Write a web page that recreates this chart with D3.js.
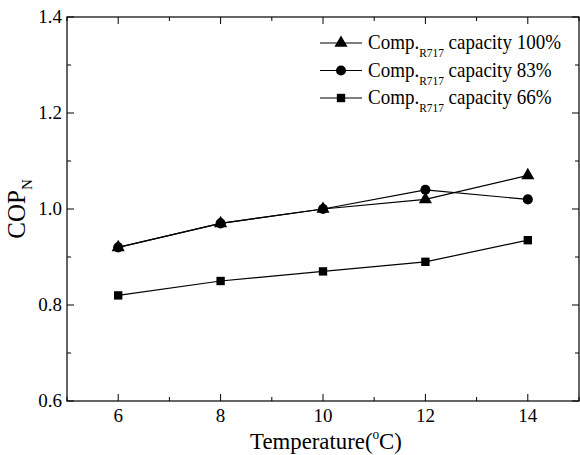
<!DOCTYPE html>
<html>
<head>
<meta charset="utf-8">
<script src="https://cdn.jsdelivr.net/npm/d3@7"></script>
<style>
  body { margin: 0; background: #fff; }
  svg text { font-family: "Liberation Serif", "Tinos", "Times New Roman", "DejaVu Serif", serif; }
</style>
</head>
<body>
<div id="chart"></div>
<script>
// COP_N vs evaporator temperature for three compressor capacities
const temps = [6, 8, 10, 12, 14];
const cap100 = [0.92, 0.97, 1.00, 1.02, 1.07];
const cap83 = [0.92, 0.97, 1.00, 1.04, 1.02];
const cap66 = [0.82, 0.85, 0.87, 0.89, 0.935];
const seriesNames = ["100%", "83%", "66%"];
const xTicks = [6, 8, 10, 12, 14];
const yTicks = [0.6, 0.8, 1.0, 1.2, 1.4];

const width = 580, height = 455;
const margin = { top: 17, right: 1, bottom: 54, left: 67 };

const svg = d3.select("#chart").append("svg")
  .attr("width", width).attr("height", height);

const x = d3.scaleLinear().domain([5, 15]).range([margin.left, width - margin.right]);
const y = d3.scaleLinear().domain([0.6, 1.4]).range([height - margin.bottom, margin.top]);

const x0 = x.range()[0], x1 = x.range()[1];
const y0 = y.range()[0], y1 = y.range()[1];

// frame
svg.append("rect")
  .attr("x", x0).attr("y", y1)
  .attr("width", x1 - x0).attr("height", y0 - y1)
  .attr("fill", "none").attr("stroke", "#000").attr("stroke-width", 1.2);

// ticks: major + minor, inward on all four sides
const xMinor = d3.range(5, 15.01, 1).filter(v => !xTicks.includes(v));
const yMinor = d3.range(0.7, 1.4, 0.2);
const major = 7, minor = 4;

function xTickLines(vals, len) {
  vals.forEach(v => {
    svg.append("line").attr("x1", x(v)).attr("x2", x(v)).attr("y1", y0).attr("y2", y0 - len)
      .attr("stroke", "#000");
    svg.append("line").attr("x1", x(v)).attr("x2", x(v)).attr("y1", y1).attr("y2", y1 + len)
      .attr("stroke", "#000");
  });
}
function yTickLines(vals, len) {
  vals.forEach(v => {
    svg.append("line").attr("x1", x0).attr("x2", x0 + len).attr("y1", y(v)).attr("y2", y(v))
      .attr("stroke", "#000");
    svg.append("line").attr("x1", x1).attr("x2", x1 - len).attr("y1", y(v)).attr("y2", y(v))
      .attr("stroke", "#000");
  });
}
xTickLines(xTicks, major);
xTickLines(xMinor, minor);
yTickLines(yTicks, major);
yTickLines(yMinor, minor);

// tick labels
svg.selectAll(".xl").data(xTicks).join("text")
  .attr("x", d => x(d)).attr("y", y0 + 21)
  .attr("text-anchor", "middle").attr("font-size", 19)
  .text(d => d);
svg.selectAll(".yl").data(yTicks).join("text")
  .attr("x", x0 - 5).attr("y", d => y(d) + 6)
  .attr("text-anchor", "end").attr("font-size", 19)
  .text(d => d.toFixed(1));

// axis titles (the original type is a bit condensed)
const xt = svg.append("text")
  .attr("transform", `translate(${(x0 + x1) / 2 + 3},${y0 + 48}) scale(0.95,1)`)
  .attr("text-anchor", "middle").attr("font-size", 24);
xt.append("tspan").text("Temperature(");
xt.append("tspan").attr("font-size", 14).attr("dy", -10).text("o");
xt.append("tspan").attr("dy", 10).text("C)");

const yt = svg.append("text")
  .attr("transform", `translate(25,${(y0 + y1) / 2}) rotate(-90)`)
  .attr("text-anchor", "middle").attr("font-size", 25);
yt.append("tspan").text("COP");
yt.append("tspan").attr("font-size", 15).attr("dy", 7).text("N");

// series
const series = [
  { name: seriesNames[0], values: cap100, symbol: d3.symbolTriangle, size: 75 },
  { name: seriesNames[1], values: cap83, symbol: d3.symbolCircle, size: 80 },
  { name: seriesNames[2], values: cap66, symbol: d3.symbolSquare, size: 70 }
];

const line = d3.line().x((d, i) => x(temps[i])).y(d => y(d));

series.forEach(s => {
  svg.append("path").attr("d", line(s.values))
    .attr("fill", "none").attr("stroke", "#000").attr("stroke-width", 1.2);
  svg.selectAll(null).data(s.values).join("path")
    .attr("transform", (d, i) => `translate(${x(temps[i])},${y(d)})`)
    .attr("d", d3.symbol().type(s.symbol).size(s.size)())
    .attr("fill", "#000");
});

// legend
const lg = svg.append("g");
series.forEach((s, i) => {
  const ly = 43 + i * 27.5;
  lg.append("line").attr("x1", 320).attr("x2", 362).attr("y1", ly).attr("y2", ly)
    .attr("stroke", "#000").attr("stroke-width", 1.2);
  lg.append("path").attr("transform", `translate(341,${ly})`)
    .attr("d", d3.symbol().type(s.symbol).size(s.size)()).attr("fill", "#000");
  const t = lg.append("text")
    .attr("transform", `translate(368,${ly + 6}) scale(0.95,1)`)
    .attr("font-size", 20);
  t.append("tspan").text("Comp.");
  t.append("tspan").attr("font-size", 12).attr("dy", 8).text("R717");
  t.append("tspan").attr("dy", -8).text(" capacity " + s.name);
});
</script>
</body>
</html>
